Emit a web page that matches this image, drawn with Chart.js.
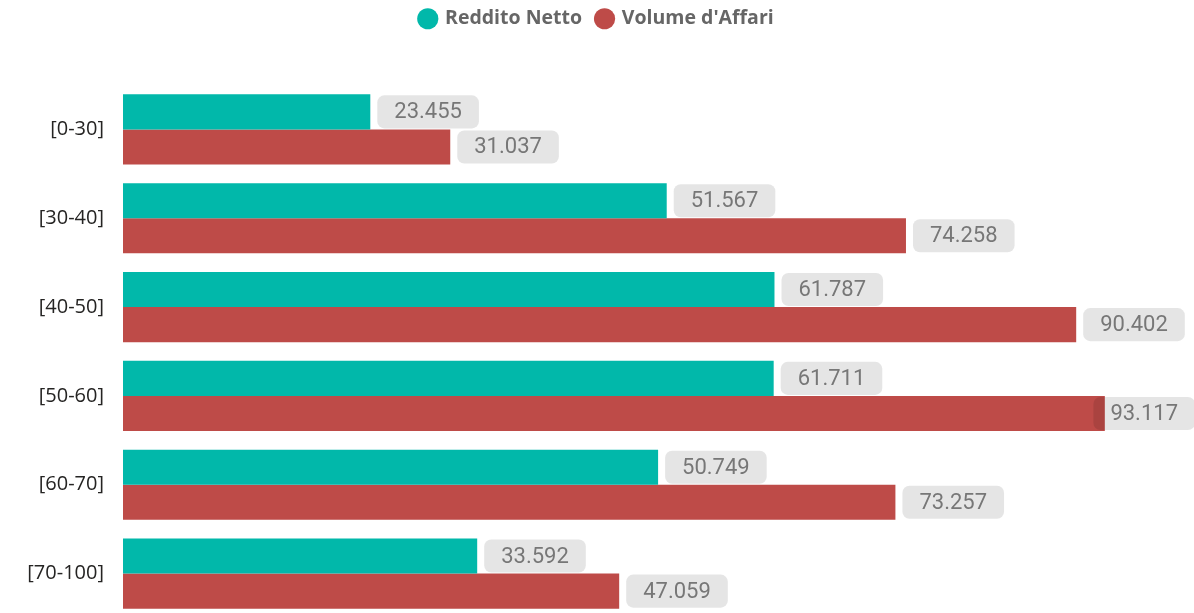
<!DOCTYPE html>
<html lang="it">
<head>
  <meta charset="UTF-8" />
  <title>Reddito per fascia</title>
  <script src="https://cdn.jsdelivr.net/npm/chart.js"></script>
  <style>
    html, body { margin: 0; padding: 0; background: #fff; overflow: hidden; }
    /* il grafico originale e' tagliato in basso: canvas piu' alto della finestra */
    .wrap { width: 1194px; height: 641px; }
  </style>
</head>
<body>
<div class="wrap"><canvas id="grafico"></canvas></div>
<script>
  const fasce = ['[0-30]', '[30-40]', '[40-50]', '[50-60]', '[60-70]', '[70-100]'];
  const redditoNetto = [23455, 51567, 61787, 61711, 50749, 33592];
  const volumeAffari = [31037, 74258, 90402, 93117, 73257, 47059];

  // formato italiano: 23455 -> "23.455"
  function formatta(v) {
    return String(Math.round(v)).replace(/\B(?=(\d{3})+(?!\d))/g, '.');
  }

  // etichette con sfondo grigio arrotondato
  const etichette = {
    id: 'etichette',
    afterDatasetsDraw(chart) {
      const ctx = chart.ctx;
      ctx.save();
      ctx.font = "22px Roboto";
      ctx.textBaseline = 'middle';
      ctx.textAlign = 'center';
      chart.data.datasets.forEach((ds, i) => {
        const meta = chart.getDatasetMeta(i);
        meta.data.forEach((bar, j) => {
          const testo = formatta(ds.data[j]);
          const w = ctx.measureText(testo).width + 34;
          const h = bar.height - 2;
          let x = bar.x + 7;
          if (x + w > chart.width + 1) x = chart.width + 1 - w;
          const y = bar.y - h / 2;
          ctx.fillStyle = 'rgba(0,0,0,0.1)';
          ctx.beginPath();
          ctx.roundRect(x, y, w, h, 7);
          ctx.fill();
          ctx.fillStyle = '#777777';
          ctx.fillText(testo, x + w / 2, bar.y + 1);
        });
      });
      ctx.restore();
    }
  };

  // spazio sotto la legenda + legenda un po' piu' in alto
  const spazioLegenda = {
    id: 'spazioLegenda',
    beforeInit(chart) {
      const legenda = chart.legend;
      const fit = legenda.fit;
      legenda.fit = function () {
        fit.call(this);
        this.height = 85;
      };
      const draw = legenda.draw;
      legenda.draw = function () {
        const ctx = this.ctx;
        ctx.save();
        ctx.translate(0, -6);
        draw.apply(this, arguments);
        ctx.restore();
      };
    }
  };

  new Chart(document.getElementById('grafico'), {
    type: 'bar',
    data: {
      labels: fasce,
      datasets: [{
        label: 'Reddito Netto',
        data: redditoNetto,
        backgroundColor: '#01B8AA',
        barPercentage: 1,
        categoryPercentage: 0.79
      }, {
        label: "Volume d'Affari",
        data: volumeAffari,
        backgroundColor: '#BE4B48',
        barPercentage: 1,
        categoryPercentage: 0.79
      }]
    },
    options: {
      indexAxis: 'y',
      responsive: true,
      maintainAspectRatio: false,
      animation: false,
      layout: { padding: 0 },
      scales: {
        x: {
          display: false,
          min: 0,
          max: 101575
        },
        y: {
          grid: { display: false },
          border: { display: false },
          afterFit(scale) { scale.width = 123; },
          ticks: {
            padding: 11,
            color: '#252423',
            font: { family: "'Open Sans'", size: 20 }
          }
        }
      },
      plugins: {
        tooltip: { enabled: false },
        legend: {
          position: 'top',
          align: 'center',
          labels: {
            usePointStyle: true,
            pointStyle: 'circle',
            boxWidth: 15,
            boxHeight: 15,
            padding: 15,
            color: '#666666',
            font: { family: "'Open Sans'", size: 19.5, weight: 'bold' }
          }
        }
      }
    },
    plugins: [etichette, spazioLegenda]
  });
</script>
</body>
</html>
